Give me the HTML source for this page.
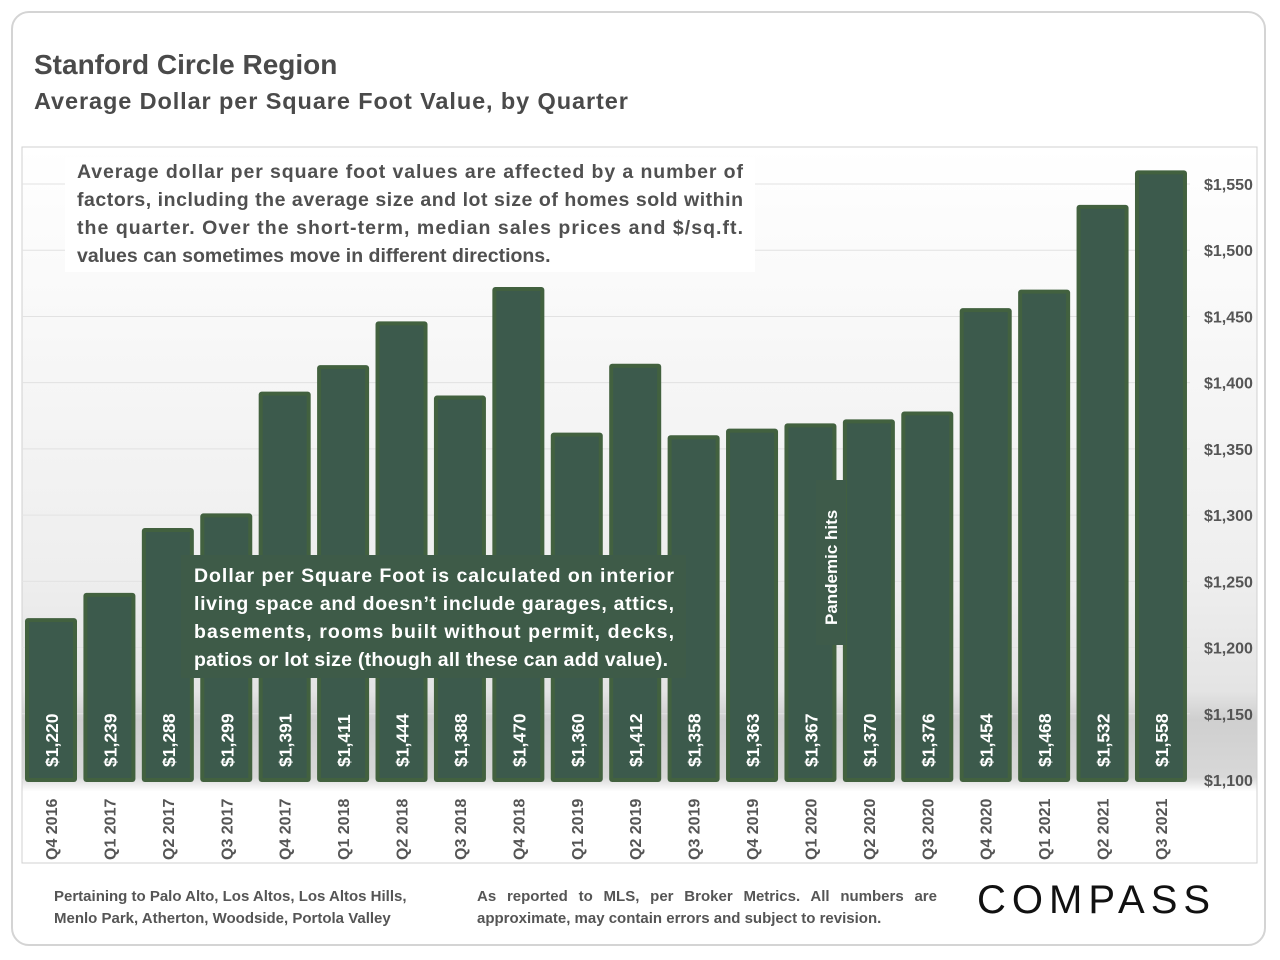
<!DOCTYPE html>
<html><head><meta charset="utf-8"><style>
body{margin:0;width:1280px;height:960px;background:#fff;font-family:"Liberation Sans",sans-serif;overflow:hidden;position:relative}
.card{position:absolute;left:11px;top:11px;width:1255px;height:935px;border:2px solid #d4d4d4;border-radius:18px;box-sizing:border-box}
.t1{position:absolute;left:34px;top:49px;font-size:28px;font-weight:bold;color:#4a4a4a}
.t2{position:absolute;left:34px;top:88px;font-size:23.5px;font-weight:bold;color:#4a4a4a;letter-spacing:0.9px}
.foot{position:absolute;font-size:15px;font-weight:bold;color:#555;line-height:22px}
</style></head><body>
<div class="card"></div>
<div class="t1">Stanford Circle Region</div>
<div class="t2">Average Dollar per Square Foot Value, by Quarter</div>
<svg id="chart" width="1280" height="960" style="position:absolute;left:0;top:0">
<defs>
<linearGradient id="bg" x1="0" y1="0" x2="0" y2="1">
<stop offset="0" stop-color="#ffffff"/><stop offset="0.6" stop-color="#eeeeee"/><stop offset="0.76" stop-color="#e4e4e4"/><stop offset="0.8" stop-color="#cfcfcf"/><stop offset="0.88" stop-color="#d8d8d8"/><stop offset="0.9" stop-color="#ffffff"/><stop offset="1" stop-color="#ffffff"/>
</linearGradient>
</defs>
<rect x="22" y="147" width="1235" height="716" fill="url(#bg)" stroke="#d0d0d0"/>
<g id="grid"></g><g id="bars"></g><g id="ylab"></g><g id="xlab"></g>
<rect x="65" y="157" width="690" height="115" fill="#fff"/>
<text font-family="Liberation Sans" font-weight="bold" font-size="19.5" fill="#505050">
<tspan x="77" y="178" textLength="666" lengthAdjust="spacing">Average dollar per square foot values are affected by a number of</tspan>
<tspan x="77" y="206" textLength="666" lengthAdjust="spacing">factors, including the average size and lot size of homes sold within</tspan>
<tspan x="77" y="234" textLength="666" lengthAdjust="spacing">the quarter. Over the short-term, median sales prices and $/sq.ft.</tspan>
<tspan x="77" y="262">values can sometimes move in different directions.</tspan></text>
<rect x="181" y="555" width="505" height="123" fill="#3e5b48"/>
<text font-family="Liberation Sans" font-weight="bold" font-size="19.5" fill="#fff">
<tspan x="194" y="582" textLength="480" lengthAdjust="spacing">Dollar per Square Foot is calculated on interior</tspan>
<tspan x="194" y="610" textLength="480" lengthAdjust="spacing">living space and doesn’t include garages, attics,</tspan>
<tspan x="194" y="638" textLength="480" lengthAdjust="spacing">basements, rooms built without permit, decks,</tspan>
<tspan x="194" y="666" textLength="474" lengthAdjust="spacing">patios or lot size (though all these can add value).</tspan></text>
<rect x="816" y="480" width="30" height="165" fill="#3e5b4a"/>
<text transform="translate(837,625) rotate(-90)" font-family="Liberation Sans" font-weight="bold" font-size="17" fill="#fff">Pandemic hits</text>
</svg>
<div class="foot" style="left:54px;top:886px">Pertaining to Palo Alto, Los Altos, Los Altos Hills,<br>Menlo Park, Atherton, Woodside, Portola Valley</div>
<div class="foot" style="left:477px;top:886px;width:460px;text-align:justify">As reported to MLS, per Broker Metrics. All numbers are approximate, may contain errors and subject to revision.</div>
<div style="position:absolute;left:977px;top:878px;font-size:40px;letter-spacing:6px;color:#111;font-family:'Liberation Sans',sans-serif">COMPASS</div>
<script>
const categories=["Q4 2016","Q1 2017","Q2 2017","Q3 2017","Q4 2017","Q1 2018","Q2 2018","Q3 2018","Q4 2018","Q1 2019","Q2 2019","Q3 2019","Q4 2019","Q1 2020","Q2 2020","Q3 2020","Q4 2020","Q1 2021","Q2 2021","Q3 2021"];
const values=[1220,1239,1288,1299,1391,1411,1444,1388,1470,1360,1412,1358,1363,1367,1370,1376,1454,1468,1532,1558];
const yTicks=[1100,1150,1200,1250,1300,1350,1400,1450,1500,1550];
const NS="http://www.w3.org/2000/svg";
function y(v){return 780-(v-1100)*596/450;}
function xc(i){return 51+i*58.42;}
function mk(t,a,p){const e=document.createElementNS(NS,t);for(const k in a)e.setAttribute(k,a[k]);p.appendChild(e);return e;}
const grid=document.getElementById('grid'),bars=document.getElementById('bars'),ylab=document.getElementById('ylab'),xlab=document.getElementById('xlab');
yTicks.forEach(v=>{
 const l=mk('line',{x1:22,x2:1190,y1:y(v),y2:y(v),stroke:'#e2e2e2'},grid);
 
 
 const t=mk('text',{x:1204,y:y(v)+6,'font-size':16,'font-weight':'bold',fill:'#555'},ylab);
 t.textContent='$'+(v/1000).toFixed(3).replace('.',',');
 
 
});
values.forEach((v,i)=>{
 const x=xc(i)-26,top=y(v)-3;
 const r=mk('rect',{x:x,y:top,width:52,height:782-top,fill:'#42613f',rx:3},bars);
 
 
 mk('rect',{x:x+4,y:top+4,width:44,height:774-top,fill:'#3c5a4c'},bars);
 const t=mk('text',{transform:`translate(${xc(i)+7},767) rotate(-90)`,'font-size':17.5,'font-weight':'bold',fill:'#fff'},bars);
 t.textContent='$'+(v/1000).toFixed(3).replace('.',',');
 
 
 const c=mk('text',{transform:`translate(${xc(i)+6},860) rotate(-90)`,'font-size':16,'font-weight':'bold',fill:'#555'},xlab);
 c.textContent=categories[i];
 
 
});
</script>
</body></html>
